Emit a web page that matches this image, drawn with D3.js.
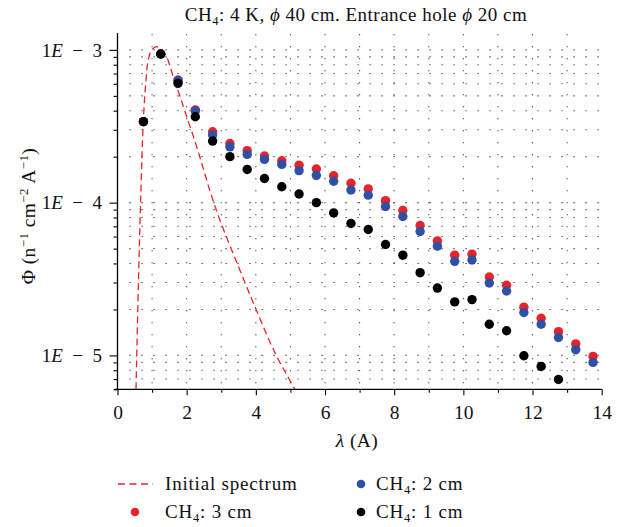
<!DOCTYPE html>
<html><head><meta charset="utf-8">
<script src="https://cdn.jsdelivr.net/npm/d3@7"></script>
<style>
body{margin:0;background:#fff;}
svg{display:block;font-family:"Liberation Serif","Times New Roman",serif;}
</style></head>
<body><svg id="c" width="629" height="527"></svg>
<script>
// ---- data ----
const lambda = [0.75,1.25,1.75,2.25,2.75,3.25,3.75,4.25,4.75,5.25,5.75,6.25,6.75,7.25,7.75,8.25,8.75,9.25,9.75,10.25,10.75,11.25,11.75,12.25,12.75,13.25,13.75];
const ch4_3cm = [3.39e-4,9.4e-4,6.35e-4,4.05e-4,2.91e-4,2.44e-4,2.19e-4,2.02e-4,1.88e-4,1.76e-4,1.66e-4,1.50e-4,1.34e-4,1.23e-4,1.03e-4,8.89e-5,7.08e-5,5.62e-5,4.53e-5,4.60e-5,3.26e-5,2.88e-5,2.07e-5,1.75e-5,1.43e-5,1.19e-5,9.85e-6];
const ch4_2cm = [3.39e-4,9.4e-4,6.29e-4,3.98e-4,2.77e-4,2.32e-4,2.07e-4,1.92e-4,1.78e-4,1.62e-4,1.51e-4,1.38e-4,1.21e-4,1.12e-4,9.44e-5,8.12e-5,6.47e-5,5.19e-5,4.13e-5,4.21e-5,2.98e-5,2.64e-5,1.91e-5,1.60e-5,1.31e-5,1.09e-5,9.0e-6];
const ch4_1cm = [3.39e-4,9.4e-4,6.04e-4,3.65e-4,2.53e-4,2.0e-4,1.65e-4,1.44e-4,1.27e-4,1.14e-4,1.0e-4,8.57e-5,7.30e-5,6.67e-5,5.32e-5,4.53e-5,3.48e-5,2.76e-5,2.24e-5,2.32e-5,1.60e-5,1.45e-5,9.95e-6,8.47e-6,6.96e-6];
const initLambda = [0.535,0.60,0.67,0.746,0.824,0.89,0.99,1.13,1.28,1.42,1.61,1.81,2.0,2.24,2.43,2.68,2.96,3.45,3.93,4.41,4.64,4.89,5.13];
const initFlux   = [6.0e-6,2.7e-5,1.04e-4,3.4e-4,6.36e-4,8.6e-4,1.0e-3,1.05e-3,1.0e-3,9.0e-4,6.7e-4,4.95e-4,3.66e-4,2.52e-4,1.83e-4,1.18e-4,7.7e-5,4.05e-5,2.2e-5,1.22e-5,9.5e-6,7.5e-6,6.0e-6];
const xTicks = [0,1,2,3,4,5,6,7,8,9,10,11,12,13,14];
const xLabels = [0,2,4,6,8,10,12,14];
const yDecades = [1e-5,1e-4,1e-3];
const yDecadeLabels = ["1","1","1"], yExp = ["5","4","3"];
const xDomain = [0,14], yDomain = [6e-6,1.29e-3];

const RED="#e8232a", BLUE="#2f51a3", BLACK="#000";

const svg = d3.select("#c");
const x = d3.scaleLinear().domain(xDomain).range([117.5,601.7]);
const y = d3.scaleLog().domain(yDomain).range([389.3,33]);

// minor y tick values
const yMinor = [];
for (let e=-6;e<=-3;e++) for (let m=1;m<=9;m++){const v=m*Math.pow(10,e); if(v>=yDomain[0]*0.999 && v<=yDomain[1]) yMinor.push(v);}

// ---- grid (dotted) ----
const grid = svg.append("g").attr("stroke","#222").attr("stroke-width",1.1).attr("stroke-dasharray","1.1,10.9");
grid.selectAll("line.h").data(yMinor.filter(v=>v>6.01e-6)).join("line")
  .attr("x1",x(0)+12).attr("x2",x(14)).attr("y1",d=>y(d)).attr("y2",d=>y(d));
grid.selectAll("line.v").data(xTicks.filter(t=>t>0&&t<14)).join("line")
  .attr("x1",d=>x(d)).attr("x2",d=>x(d)).attr("y1",y(yDomain[0])-6).attr("y2",y(yDomain[1]));

// ---- clip ----
svg.append("clipPath").attr("id","clip").append("rect")
  .attr("x",x(0)).attr("y",y(yDomain[1])).attr("width",x(14)-x(0)).attr("height",y(yDomain[0])-y(yDomain[1]));

// ---- initial spectrum ----
const line = d3.line().x((d,i)=>x(initLambda[i])).y(d=>y(d)).curve(d3.curveCatmullRom.alpha(0.5));
svg.append("path").attr("clip-path","url(#clip)").attr("d",line(initFlux))
  .attr("fill","none").attr("stroke",RED).attr("stroke-width",1.3).attr("stroke-dasharray","7,4");

// ---- points ----
function pts(arr,col){
  svg.append("g").attr("clip-path","url(#clip)").selectAll("circle").data(arr).join("circle")
    .attr("cx",(d,i)=>x(lambda[i])).attr("cy",d=>y(d)).attr("r",4.7).attr("fill",col);
}
pts(ch4_3cm,RED); pts(ch4_2cm,BLUE); pts(ch4_1cm,BLACK);

// ---- axes ----
const xa = svg.append("g").attr("transform",`translate(0,${y(yDomain[0])})`)
  .call(d3.axisBottom(x).tickValues(xTicks).tickSize(6).tickFormat(d=>xLabels.includes(d)?d:""));
xa.select(".domain").attr("d",`M${x(0)-3},0H${x(14)}`).attr("stroke-width",1.3);
xa.selectAll(".tick line").attr("y2",d=>d%2===0?6:3.5).attr("stroke-width",1.1);
xa.selectAll(".tick text").attr("font-family","Liberation Serif").attr("font-size",19.5).attr("dy","1.05em").attr("fill","#111");

const ya = svg.append("g").attr("transform",`translate(${x(0)},0)`)
  .call(d3.axisLeft(y).tickValues(yMinor).tickSize(7).tickFormat(""));
ya.select(".domain").attr("d",`M0,${y(yDomain[0])}V${y(yDomain[1])}`).attr("stroke-width",1.3);
ya.selectAll(".tick line").attr("x2",d=>yDecades.includes(d)?-8:-4).attr("stroke-width",1.1);

// y decade labels
const yl = svg.append("g").attr("font-size",19).attr("fill","#111");
yDecades.forEach((v,i)=>{
  const t = yl.append("text").attr("x",102).attr("y",y(v)).attr("dy","0.35em").attr("text-anchor","end");
  t.append("tspan").text(yDecadeLabels[i]);
  t.append("tspan").attr("font-style","italic").text("E");
  t.append("tspan").text("\u2002\u2212\u2002"+yExp[i]);
});

// ---- titles ----
const title = svg.append("text").attr("x",356).attr("y",21).attr("text-anchor","middle").attr("font-size",19).attr("letter-spacing",0.5).attr("fill","#111");
title.append("tspan").text("CH");
title.append("tspan").attr("font-size",12.5).attr("dy",4).text("4");
title.append("tspan").attr("dy",-4).text(": 4 K, ");
title.append("tspan").attr("font-style","italic").text("\u03d5");
title.append("tspan").text(" 40 cm. Entrance hole ");
title.append("tspan").attr("font-style","italic").text("\u03d5");
title.append("tspan").text(" 20 cm");

const xt = svg.append("text").attr("x",357).attr("y",447).attr("text-anchor","middle").attr("font-size",19.5).attr("letter-spacing",0.4).attr("fill","#111");
xt.append("tspan").attr("font-style","italic").text("\u03bb");
xt.append("tspan").text(" (A)");

const ytg = svg.append("g").attr("transform","translate(35,216) rotate(-90)");
const yt = ytg.append("text").attr("text-anchor","middle").attr("font-size",19.5).attr("letter-spacing",0.4).attr("fill","#111");
yt.append("tspan").text("\u03a6 (n");
yt.append("tspan").attr("font-size",13).attr("dy",-7).text("\u22121");
yt.append("tspan").attr("dy",7).text(" cm");
yt.append("tspan").attr("font-size",13).attr("dy",-7).text("\u22122");
yt.append("tspan").attr("dy",7).text(" A");
yt.append("tspan").attr("font-size",13).attr("dy",-7).text("\u22121");
yt.append("tspan").attr("dy",7).text(")");

// ---- legend ----
const lg = svg.append("g").attr("font-size",19).attr("letter-spacing",0.8).attr("fill","#111");
lg.append("line").attr("x1",118).attr("x2",153).attr("y1",484).attr("y2",484)
  .attr("stroke",RED).attr("stroke-width",1.3).attr("stroke-dasharray","7,4.5");
lg.append("text").attr("x",165).attr("y",490).text("Initial spectrum");
function legItem(cx,cy,col,lab){
  lg.append("circle").attr("cx",cx).attr("cy",cy).attr("r",4.3).attr("fill",col);
  const t = lg.append("text").attr("x",cx+(cx<200?30:15)).attr("y",cy+6);
  t.append("tspan").text("CH");
  t.append("tspan").attr("font-size",12.5).attr("dy",4).text("4");
  t.append("tspan").attr("dy",-4).text(": "+lab);
}
legItem(361,484,BLUE,"2 cm");
legItem(135,512,RED,"3 cm");
legItem(361,512,BLACK,"1 cm");
</script></body></html>
